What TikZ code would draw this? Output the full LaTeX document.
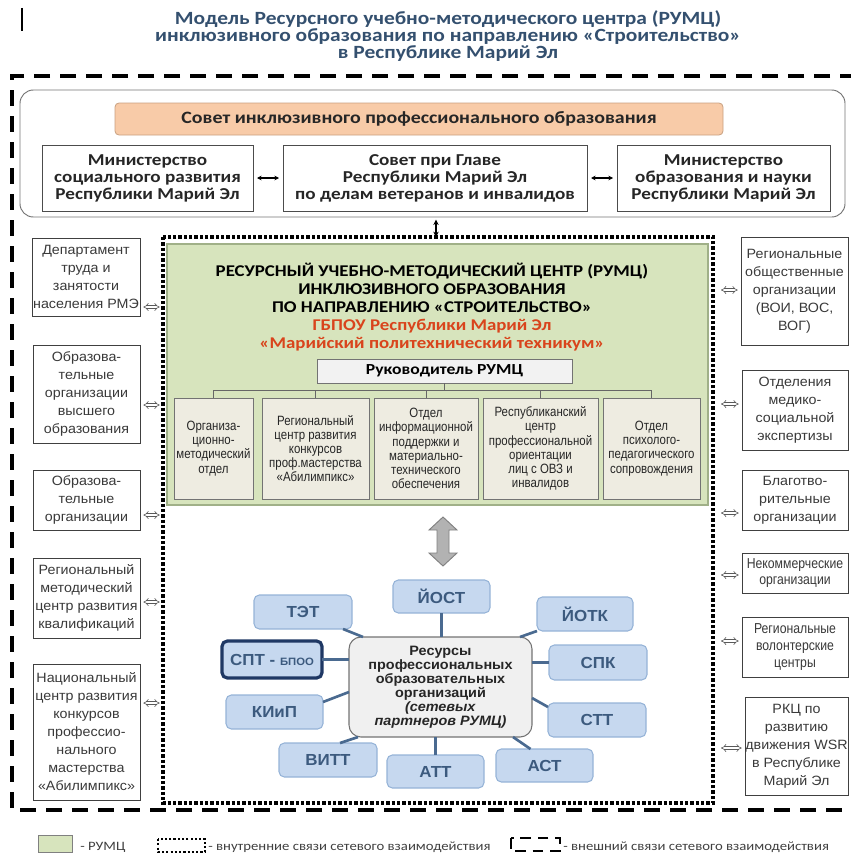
\documentclass[tikz,border=0pt]{standalone}
\usepackage{fontspec}
\setmainfont{Liberation Sans}
\newfontfamily\calfont{Carlito}[FakeStretch=1.15]
\newfontfamily\arfont{Liberation Sans}[FakeStretch=1.06]
\newfontfamily\narfont{Liberation Sans}[FakeStretch=0.85]
\usetikzlibrary{arrows.meta,calc}
\definecolor{titleblue}{HTML}{34506F}
\definecolor{peach}{HTML}{F8CBA8}
\definecolor{peachline}{HTML}{C8A080}
\definecolor{greenfill}{HTML}{D7E4BD}
\definecolor{greenline}{HTML}{A0B088}
\definecolor{beige}{HTML}{EEECE1}
\definecolor{satfill}{HTML}{C6D8EF}
\definecolor{satline}{HTML}{95B3D7}
\definecolor{sattext}{HTML}{3C5A7E}
\definecolor{navy}{HTML}{1F3864}
\definecolor{linkblue}{HTML}{4A6A90}
\definecolor{redtext}{HTML}{D9441C}
\definecolor{txtgray}{HTML}{3A3A3A}
\newdimen\pu \pu=0.75pt
\newcommand\bx[7]{\node[#6,minimum width={(#4-#2)*0.75pt},minimum height={(#5-#3)*0.75pt}] (#1) at ({(#2+#4)/2},{(#3+#5)/2}) {#7};}
\tikzset{
  base/.style={inner sep=0pt,outer sep=0pt,align=center},
  topbox/.style={base,draw=black!70,line width=0.7pt,fill=white,font=\calfont\bfseries\fontsize{12.5}{12.75}\selectfont,text=black!85},
  sidebox/.style={base,draw=black!75,line width=0.6pt,fill=white,font=\arfont\fontsize{10.1}{13.5}\selectfont,text=txtgray},
  narbox/.style={base,draw=black!75,line width=0.6pt,fill=white,font=\narfont\fontsize{10.8}{12.5}\selectfont,text=txtgray},
  subbox/.style={base,draw=black!55,line width=0.6pt,fill=beige,font=\narfont\fontsize{10.1}{10.6}\selectfont,text=black!85},
  sat/.style={base,draw=satline,line width=0.8pt,fill=satfill,rounded corners=4pt,font=\arfont\bfseries\fontsize{12}{14}\selectfont,text=sattext},
  link/.style={draw=linkblue,line width=2pt},
  tree/.style={draw=black!60,line width=0.7pt},
  smallarr/.style={{Stealth[length=3.5pt,width=3.5pt]}-{Stealth[length=3.5pt,width=3.5pt]},line width=0.8pt,shorten <=3pt,shorten >=3pt},
  sidearr/.style={{Implies}-{Implies},double distance=1.6pt,line width=0.45pt,draw=black!65},
  outerdash/.style={line width=2.3pt,dash pattern=on 12pt off 7.5pt},
  innerdot/.style={line width=2.6pt,dash pattern=on 2.4pt off 1.6pt},
  legtext/.style={inner sep=0pt,anchor=west,font=\calfont\fontsize{9.6}{10}\selectfont,text=black!75}
}
\begin{document}
\begin{tikzpicture}[x=0.75pt,y=-0.75pt]
\useasboundingbox (0,0) rectangle (850,856);
% stray mark
\draw[line width=1.4pt] (22,8) -- (22,31);
% title
\node[base,text=titleblue,font=\calfont\bfseries\fontsize{14}{13}\selectfont] (title) at (448,36)
  {Модель Ресурсного учебно-методического центра (РУМЦ)\\инклюзивного образования по направлению «Строительство»\\в Республике Марий Эл};
% outer dashed frame
\draw[outerdash] (856,76) -- (12,76) -- (12,810) -- (856,810);
% top rounded box
\bx{top}{20}{90}{845}{217}{base,draw=black!55,line width=0.7pt,rounded corners=10pt}{}
\bx{sovet}{115}{103}{723}{135}{base,draw=peachline,line width=0.6pt,fill=peach,rounded corners=3pt,font=\calfont\bfseries\fontsize{13}{14}\selectfont,text=black!85}{Совет инклюзивного профессионального образования}
\bx{m1}{42}{145}{253}{211}{topbox}{Министерство\\социального развития\\Республики Марий Эл}
\bx{sg}{283}{145}{587}{211}{topbox}{Совет при Главе\\Республики Марий Эл\\по делам ветеранов и инвалидов}
\bx{m2}{617}{145}{830}{211}{topbox}{Министерство\\образования и науки\\Республики Марий Эл}
\draw[smallarr] (m1.east) -- (sg.west);
\draw[smallarr] (sg.east) -- (m2.west);
% inner dotted frame
\bx{inner}{163}{237}{713}{803}{base}{}
\draw[innerdot] (inner.north west) rectangle (inner.south east);
\draw[{Stealth[length=4pt,width=4pt]}-{Stealth[length=4pt,width=4pt]},line width=0.8pt,shorten <=2pt] (436,217) coordinate (ta) -- (ta |- inner.north);
% green RUMC box
\bx{green}{167}{244}{708}{505}{base,draw=greenline,line width=0.8pt,fill=greenfill}{}
\node[base,font=\calfont\bfseries\fontsize{12.3}{13.5}\selectfont] (head) at (432,307)
  {РЕСУРСНЫЙ УЧЕБНО-МЕТОДИЧЕСКИЙ ЦЕНТР (РУМЦ)\\ИНКЛЮЗИВНОГО ОБРАЗОВАНИЯ\\ПО НАПРАВЛЕНИЮ «СТРОИТЕЛЬСТВО»\\\textcolor{redtext}{ГБПОУ Республики Марий Эл}\\\textcolor{redtext}{«Марийский политехнический техникум»}};
\bx{ruk}{317}{359}{572}{383}{base,draw=black!55,line width=0.6pt,fill=black!5,font=\calfont\bfseries\fontsize{11.5}{13}\selectfont}{Руководитель РУМЦ}
\bx{d1}{174}{398}{253}{499}{subbox}{Организа-\\ционно-\\методический\\отдел}
\bx{d2}{262}{398}{369}{499}{subbox}{Региональный\\центр развития\\конкурсов\\проф.мастерства\\«Абилимпикс»}
\bx{d3}{374}{398}{478}{499}{subbox}{Отдел\\информационной\\поддержки и\\материально-\\технического\\обеспечения}
\bx{d4}{483}{398}{598}{499}{subbox}{Республиканский\\центр\\профессиональной\\ориентации\\лиц с ОВЗ и\\инвалидов}
\bx{d5}{603}{398}{700}{499}{subbox}{Отдел\\психолого-\\педагогического\\сопровождения}
\coordinate (bus) at (444,390);
\foreach \d in {d1,d2,d3,d4,d5}{\draw[tree] (ruk.south) -- (ruk.south |- bus) -| (\d.north);}
% left column
\bx{l1}{32}{238}{140}{316}{sidebox}{Департамент\\труда и\\занятости\\населения РМЭ}
\bx{l2}{33}{345}{140}{443}{sidebox}{Образова-\\тельные\\организации\\высшего\\образования}
\bx{l3}{33}{470}{140}{530}{sidebox}{Образова-\\тельные\\организации}
\bx{l4}{33}{558}{140}{638}{sidebox}{Региональный\\методический\\центр развития\\квалификаций}
\bx{l5}{33}{664}{140}{800}{sidebox}{Национальный\\центр развития\\конкурсов\\профессио-\\нального\\мастерства\\«Абилимпикс»}
\foreach \b/\y in {l1/307,l2/405,l3/515,l4/602,l5/703}{
  \draw[sidearr,shorten <=2.5pt,shorten >=2.5pt] (\b.east |- 0,\y) -- (inner.west |- 0,\y);}
% right column
\bx{r1}{741}{237}{848}{345}{sidebox}{Региональные\\общественные\\организации\\(ВОИ, ВОС,\\ВОГ)}
\bx{r2}{742}{370}{848}{450}{sidebox}{Отделения\\медико-\\социальной\\экспертизы}
\bx{r3}{742}{470}{848}{530}{sidebox}{Благотво-\\рительные\\организации}
\bx{r4}{742}{553}{848}{593}{narbox}{Некоммерческие\\организации}
\bx{r5}{742}{617}{848}{677}{narbox}{Региональные\\волонтерские\\центры}
\bx{r6}{745}{697}{848}{795}{sidebox}{РКЦ по\\развитию\\движения WSR\\в Республике\\Марий Эл}
\foreach \b/\y in {r1/290,r2/404,r3/513,r4/575,r5/641,r6/748}{
  \draw[sidearr,shorten <=6pt,shorten >=2.5pt] (inner.east |- 0,\y) -- (\b.west |- 0,\y);}
% big gray double arrow
\draw[fill=black!30,draw=black!50,line width=0.7pt]
  (443,517) -- (457,530) -- (449,530) -- (449,553) -- (457,553) -- (443,566)
  -- (429,553) -- (437,553) -- (437,530) -- (429,530) -- cycle;
% network
\bx{ctr}{349}{637}{532}{737}{base,draw=black!55,line width=0.8pt,fill=black!6,rounded corners=9pt,font=\arfont\bfseries\fontsize{10.2}{10.5}\selectfont,text=black!85}{Ресурсы\\профессиональных\\образовательных\\организаций\\\textit{(сетевых}\\\textit{партнеров РУМЦ)}}
\bx{yost}{393}{580}{490}{613}{sat}{ЙОСТ}
\bx{tet}{254}{595}{352}{629}{sat}{ТЭТ}
\bx{yotk}{537}{597}{633}{631}{sat}{ЙОТК}
\bx{spt}{222}{641}{322}{678}{sat,draw=navy,line width=2.4pt}{СПТ - {\fontsize{8}{9}\selectfont БПОО}}
\bx{spk}{549}{645}{647}{680}{sat}{СПК}
\bx{kiip}{226}{695}{323}{729}{sat}{КИиП}
\bx{stt}{548}{703}{646}{737}{sat}{СТТ}
\bx{vitt}{279}{743}{377}{777}{sat}{ВИТТ}
\bx{att}{387}{755}{484}{788}{sat}{АТТ}
\bx{ast}{496}{749}{593}{782}{sat}{АСТ}
\draw[link] (yost.south) -- (yost.south |- ctr.north);
\draw[link] ([xshift=-9\pu]tet.south east) -- ([xshift=14\pu]ctr.north west);
\draw[link] (yotk.south west) -- ([xshift=-12\pu]ctr.north east);
\draw[link] (spt.east) -- (spt.east -| ctr.west);
\draw[link] (spk.west) -- (spk.west -| ctr.east);
\draw[link] ([yshift=10\pu]kiip.east) -- ([yshift=-5\pu]ctr.west);
\draw[link] ([yshift=-11\pu]ctr.east) -- ([yshift=13\pu]stt.west);
\draw[link] ([xshift=9\pu]ctr.south west) -- ([xshift=12\pu]vitt.north);
\draw[link] (att.north) -- (att.north |- ctr.south);
\draw[link] ([xshift=-19\pu]ctr.south east) -- ([xshift=-14\pu]ast.north);
% legend
\bx{legg}{38}{835}{72}{852}{base,draw=black!50,line width=0.6pt,fill=greenfill}{}
\node[legtext] (lt1) at (80,847) {- РУМЦ};
\bx{legdot}{158}{839}{205}{852}{base}{}
\draw[line width=1.6pt,dash pattern=on 1.6pt off 1.6pt] (legdot.north west) rectangle (legdot.south east);
\node[legtext] (lt2) at (208,847) {- внутренние связи сетевого взаимодействия};
\bx{legdash}{511}{838}{560}{851}{base}{}
\draw[line width=2pt,dash pattern=on 8pt off 5pt] (legdash.north west) rectangle (legdash.south east);
\node[legtext] (lt3) at (563,847) {- внешний связи сетевого взаимодействия};
\end{tikzpicture}
\end{document}
